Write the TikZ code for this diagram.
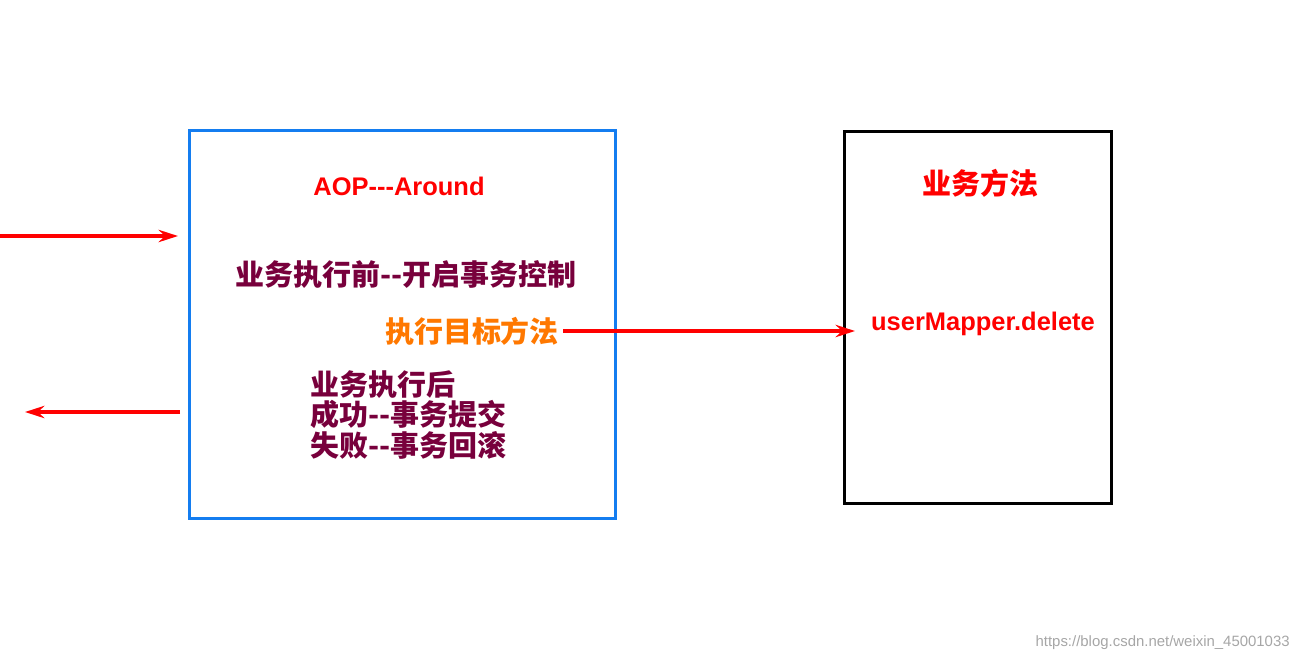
\documentclass[tikz,border=0pt]{standalone}
\usepackage{fontspec}
\setmainfont{Liberation Sans}
\newfontfamily\cjk{Noto Sans CJK SC}
\usetikzlibrary{arrows.meta}
\definecolor{boxblue}{RGB}{20,125,240}
\definecolor{txtpurple}{RGB}{120,0,60}
\definecolor{txtorange}{RGB}{255,120,0}
\tikzset{
 redarrow/.style={draw=red,line width=2pt,-{Stealth[length=11pt,width=7pt]}},
 cn/.style={font=\cjk\bfseries\fontsize{16.5}{19}\selectfont,inner sep=0pt},
 en/.style={font=\bfseries\fontsize{14.5}{17}\selectfont,text=red,inner sep=0pt}
}
\begin{document}
\begin{tikzpicture}[x=0.02cm,y=-0.02cm]
\useasboundingbox (0,0) rectangle (1300,663);
\node[draw=boxblue,line width=1.7pt,minimum width=426*0.02cm,minimum height=388*0.02cm,anchor=north west,inner sep=0pt] (aop) at (188,129) {};
\node[draw=black,line width=1.7pt,minimum width=267*0.02cm,minimum height=372*0.02cm,anchor=north west,inner sep=0pt] (biz) at (843,130) {};
\coordinate (inS) at (0,236);
\coordinate (outE) at (25,412);
\node[en] (t1) at (399,186) {AOP{-}{-}{-}Around};
\node[cn,text=txtpurple] (t2) at (406,275) {业务执行前--开启事务控制};
\node[cn,text=txtorange] (t3) at (472,331) {执行目标方法};
\node[cn,text=txtpurple,align=left,anchor=north west,font=\cjk\bfseries\fontsize{16.5}{17.5}\selectfont] (t4) at (310,370) {业务执行后\\成功--事务提交\\失败--事务回滚};
\node[cn,text=red] (t5) at (980,183) {业务方法};
\node[en] (t6) at (983,324) {userMapper.delete};
\node[anchor=east,text=gray!70,font=\fontsize{8.5}{10}\selectfont,inner sep=0pt] (wm) at (1290,643) {https://blog.csdn.net/weixin\_45001033};
\draw[redarrow] (inS) -- ([xshift=-10*0.02cm]aop.west |- inS);
\draw[redarrow] ([xshift=-8*0.02cm]aop.west |- outE) -- (outE);
\draw[redarrow] ([xshift=4*0.02cm]t3.east) -- ([xshift=12*0.02cm]biz.west |- t3.east);
\end{tikzpicture}
\end{document}
